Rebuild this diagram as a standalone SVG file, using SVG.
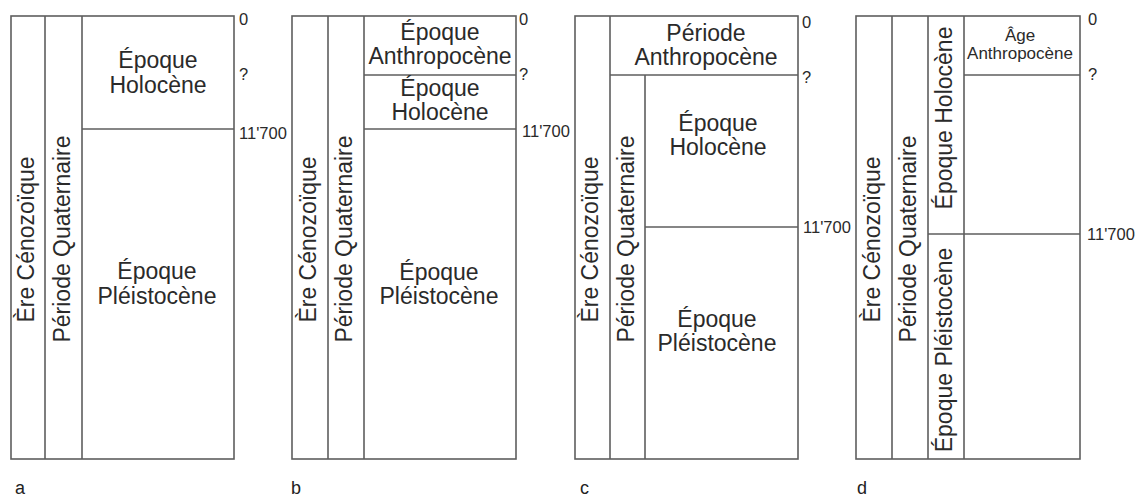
<svg xmlns="http://www.w3.org/2000/svg" width="1139" height="499" viewBox="0 0 1139 499">
<style>
.box{fill:none;stroke:#5e5e5e;stroke-width:1.6}
.ln{stroke:#5e5e5e;stroke-width:1.6}
.t{font-family:"Liberation Sans",Arial,sans-serif;font-size:23px;fill:#2a2a2a;text-anchor:middle}
.s{font-family:"Liberation Sans",Arial,sans-serif;font-size:17px;fill:#2a2a2a;text-anchor:middle}
.n{font-family:"Liberation Sans",Arial,sans-serif;font-size:16.5px;fill:#2a2a2a}
.p{font-family:"Liberation Sans",Arial,sans-serif;font-size:18px;fill:#222}
</style>
<rect width="1139" height="499" fill="#fff"/>
<g id="panel-a">
<rect class="box" x="11" y="16" width="223" height="443"/>
<g id="connectors-a">
<line class="ln" x1="45" y1="16" x2="45" y2="459"/>
<line class="ln" x1="82" y1="16" x2="82" y2="459"/>
<line class="ln" x1="82" y1="129" x2="234" y2="129"/>
</g>
<text class="t" transform="translate(34,239.5) rotate(-90)">Ère Cénozoïque</text>
<text class="t" transform="translate(70,239) rotate(-90)">Période Quaternaire</text>
<text class="t" x="158" y="68">Époque</text>
<text class="t" x="158" y="93">Holocène</text>
<text class="t" x="157" y="279">Époque</text>
<text class="t" x="157" y="304">Pléistocène</text>
<text class="n" x="239" y="25">0</text>
<text class="n" x="239" y="80">?</text>
<text class="n" x="239" y="139">11'700</text>
<text class="p" x="15" y="494">a</text>
</g>
<g id="panel-b">
<rect class="box" x="292" y="16" width="224" height="443"/>
<g id="connectors-b">
<line class="ln" x1="328" y1="16" x2="328" y2="459"/>
<line class="ln" x1="364" y1="16" x2="364" y2="459"/>
<line class="ln" x1="364" y1="75" x2="516" y2="75"/>
<line class="ln" x1="364" y1="129" x2="516" y2="129"/>
</g>
<text class="t" transform="translate(316,239.5) rotate(-90)">Ère Cénozoïque</text>
<text class="t" transform="translate(352,239) rotate(-90)">Période Quaternaire</text>
<text class="t" x="440" y="40">Époque</text>
<text class="t" x="440" y="64">Anthropocène</text>
<text class="t" x="440" y="96">Époque</text>
<text class="t" x="440" y="120">Holocène</text>
<text class="t" x="439" y="280">Époque</text>
<text class="t" x="439" y="304">Pléistocène</text>
<text class="n" x="519" y="25">0</text>
<text class="n" x="519" y="80">?</text>
<text class="n" x="522" y="137">11'700</text>
<text class="p" x="291" y="494">b</text>
</g>
<g id="panel-c">
<rect class="box" x="575" y="16" width="223" height="443"/>
<g id="connectors-c">
<line class="ln" x1="610" y1="16" x2="610" y2="459"/>
<line class="ln" x1="610" y1="75" x2="798" y2="75"/>
<line class="ln" x1="645" y1="75" x2="645" y2="459"/>
<line class="ln" x1="645" y1="227" x2="798" y2="227"/>
</g>
<text class="t" transform="translate(598,239.5) rotate(-90)">Ère Cénozoïque</text>
<text class="t" transform="translate(634,239) rotate(-90)">Période Quaternaire</text>
<text class="t" x="706" y="41">Période</text>
<text class="t" x="706" y="65">Anthropocène</text>
<text class="t" x="718" y="131">Époque</text>
<text class="t" x="718" y="155">Holocène</text>
<text class="t" x="717" y="327">Époque</text>
<text class="t" x="717" y="351">Pléistocène</text>
<text class="n" x="802" y="28">0</text>
<text class="n" x="802" y="83">?</text>
<text class="n" x="803" y="233">11'700</text>
<text class="p" x="580" y="494">c</text>
</g>
<g id="panel-d">
<rect class="box" x="856" y="16" width="224" height="443"/>
<g id="connectors-d">
<line class="ln" x1="892" y1="16" x2="892" y2="459"/>
<line class="ln" x1="928" y1="16" x2="928" y2="459"/>
<line class="ln" x1="964" y1="16" x2="964" y2="459"/>
<line class="ln" x1="964" y1="75" x2="1080" y2="75"/>
<line class="ln" x1="928" y1="234" x2="1080" y2="234"/>
</g>
<text class="t" transform="translate(880,239.5) rotate(-90)">Ère Cénozoïque</text>
<text class="t" transform="translate(916,239) rotate(-90)">Période Quaternaire</text>
<text class="t" transform="translate(952,118) rotate(-90)">Époque Holocène</text>
<text class="t" transform="translate(952,350) rotate(-90)">Époque Pléistocène</text>
<text class="s" x="1020" y="41">Âge</text>
<text class="s" x="1020" y="59">Anthropocène</text>
<text class="n" x="1088" y="25">0</text>
<text class="n" x="1088" y="80">?</text>
<text class="n" x="1087" y="240">11'700</text>
<text class="p" x="857" y="494">d</text>
</g>
</svg>
